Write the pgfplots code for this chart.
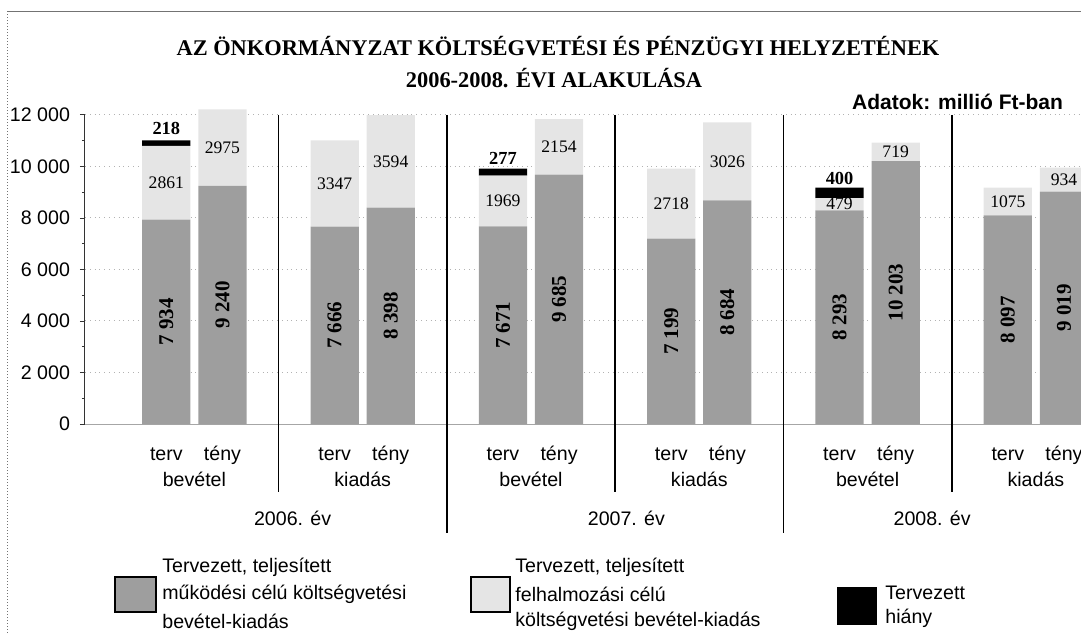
\documentclass[border=0pt]{standalone}
\usepackage{fontspec}
\setmainfont{Liberation Sans}
\newfontfamily\tnr{Liberation Serif}
\usepackage{pgfplots}
\usepackage{pgfplotstable}
\pgfplotsset{compat=1.18}
\definecolor{mukod}{gray}{0.62}
\definecolor{felh}{gray}{0.9}
\definecolor{framec}{gray}{0.45}

\pgfplotstableread{
x mukod felh hiany
1 7934 2861 218
2 9240 2975 0
4 7666 3347 0
5 8398 3594 0
7 7671 1969 277
8 9685 2154 0
10 7199 2718 0
11 8684 3026 0
13 8293 479 400
14 10203 719 0
16 8097 1075 0
17 9019 934 0
}\datatable

\tikzset{catlab/.style={anchor=base, font=\fontsize{9.8}{11}\selectfont}}

\begin{document}
\begin{tikzpicture}
\begin{scope}
\clip (0,0) rectangle (540.5pt,-317pt);
\draw[framec, line width=0.5pt] (3.5pt,-5.5pt) -- (545pt,-5.5pt);
\draw[framec, densely dotted, line width=0.5pt] (3.5pt,-5.5pt) -- (3.5pt,-320pt);
\node[font=\tnr\bfseries\fontsize{11.2}{13}\selectfont] at (279pt,-23pt) {AZ ÖNKORMÁNYZAT KÖLTSÉGVETÉSI ÉS PÉNZÜGYI HELYZETÉNEK};
\node[font=\tnr\bfseries\fontsize{11.2}{13}\selectfont] at (277pt,-39pt) {2006-2008. ÉVI ALAKULÁSA};
\node[anchor=east, font=\bfseries\fontsize{10.5}{12}\selectfont] at (535pt,-51pt) {Adatok: millió Ft-ban};
\begin{axis}[
  at={(42.5pt,-212pt)}, anchor=south west,
  x=28.05pt, y=0.012875pt,
  xmin=-0.45, xmax=17.6, ymin=0, ymax=12000,
  clip=false,
  axis x line*=bottom, axis y line*=left,
  x axis line style={gray!70, line width=0.5pt, -},
  y axis line style={gray!40!black, line width=0.5pt, -},
  ybar stacked, bar width=0.86,
  ytick={0,2000,...,12000},
  scaled y ticks=false,
  minor y tick num=1,
  tick align=outside,
  major tick length=2.5pt, minor tick length=1.5pt,
  ytick style={gray!40!black, line width=0.4pt},
  ymajorgrids, grid style={gray!60, dotted, line width=0.5pt},
  /pgf/number format/assume math mode=true,
  yticklabel={\pgfmathprintnumber[fixed, precision=0, 1000 sep={\ }]{\tick}},
  yticklabel style={font=\fontsize{9.8}{11}\selectfont, xshift=-1.5pt},
  xtick={1,2,4,5,7,8,10,11,13,14,16,17},
  xticklabels={terv,tény,terv,tény,terv,tény,terv,tény,terv,tény,terv,tény},
  xtick style={draw=none},
  xticklabel style={font=\fontsize{9.8}{11}\selectfont, anchor=base, yshift=-15.5pt},
  visualization depends on={rawy \as \rawy},
]
\addplot[fill=mukod, draw=none,
  nodes near coords={\pgfmathprintnumber[1000 sep={\hspace{0.25em}}]{\rawy}},
  nodes near coords align={center},
  nodes near coords style={rotate=90, anchor=center,
    font=\tnr\bfseries\fontsize{10.5}{12}\selectfont},
] table[x=x, y=mukod] {\datatable};
\addplot[fill=felh, draw=none,
  nodes near coords={\pgfmathprintnumber[1000 sep={}]{\rawy}},
  nodes near coords align={center},
  nodes near coords style={anchor=center,
    font=\tnr\fontsize{8.8}{10}\selectfont},
] table[x=x, y=felh] {\datatable};
\addplot[fill=black, draw=none,
  nodes near coords={\ifdim\rawy pt>1pt \pgfmathprintnumber{\rawy}\fi},
  nodes near coords style={anchor=south, yshift=0.5pt,
    font=\tnr\bfseries\fontsize{9.2}{10}\selectfont},
] table[x=x, y=hiany] {\datatable};

\draw[black, line width=0.8pt] (axis cs:3,12000) -- ([yshift=-34pt]axis cs:3,0);
\draw[black, line width=0.8pt] (axis cs:9,12000) -- ([yshift=-34pt]axis cs:9,0);
\draw[black, line width=0.8pt] (axis cs:15,12000) -- ([yshift=-34pt]axis cs:15,0);
\draw[black, line width=0.8pt] (axis cs:6,12000) -- ([yshift=-54.5pt]axis cs:6,0);
\draw[black, line width=0.8pt] (axis cs:12,12000) -- ([yshift=-54.5pt]axis cs:12,0);

\node[catlab] at ([yshift=-31pt]axis cs:1.5,0) {bevétel};
\node[catlab] at ([yshift=-31pt]axis cs:4.5,0) {kiadás};
\node[catlab] at ([yshift=-31pt]axis cs:7.5,0) {bevétel};
\node[catlab] at ([yshift=-31pt]axis cs:10.5,0) {kiadás};
\node[catlab] at ([yshift=-31pt]axis cs:13.5,0) {bevétel};
\node[catlab] at ([yshift=-31pt]axis cs:16.5,0) {kiadás};
\node[catlab] at ([yshift=-50.5pt]axis cs:3.25,0) {2006. év};
\node[catlab] at ([yshift=-50.5pt]axis cs:9.2,0) {2007. év};
\node[catlab] at ([yshift=-50.5pt]axis cs:14.65,0) {2008. év};
\end{axis}

\begin{scope}[font=\fontsize{9.8}{11}\selectfont]
\draw[black, line width=0.6pt, fill=mukod] (57.5pt,-288.5pt) rectangle (78pt,-306pt);
\node[anchor=west, inner sep=0pt] at (81pt,-283.5pt) {Tervezett, teljesített};
\node[anchor=west, inner sep=0pt] at (81pt,-297pt) {működési célú költségvetési};
\node[anchor=west, inner sep=0pt] at (81pt,-310.5pt) {bevétel-kiadás};
\draw[black, line width=0.6pt, fill=felh] (235.5pt,-288.5pt) rectangle (255pt,-306pt);
\node[anchor=west, inner sep=0pt] at (257.5pt,-283.5pt) {Tervezett, teljesített};
\node[anchor=west, inner sep=0pt] at (257.5pt,-297pt) {felhalmozási célú};
\node[anchor=west, inner sep=0pt] at (257.5pt,-310.5pt) {költségvetési bevétel-kiadás};
\fill[black] (418.5pt,-293.5pt) rectangle (438.5pt,-312.5pt);
\node[anchor=west, inner sep=0pt] at (442.5pt,-296.5pt) {Tervezett};
\node[anchor=west, inner sep=0pt] at (442.5pt,-309pt) {hiány};
\end{scope}
\end{scope}
\pgfresetboundingbox
\useasboundingbox (0,0) rectangle (540.5pt,-317pt);
\end{tikzpicture}
\end{document}
